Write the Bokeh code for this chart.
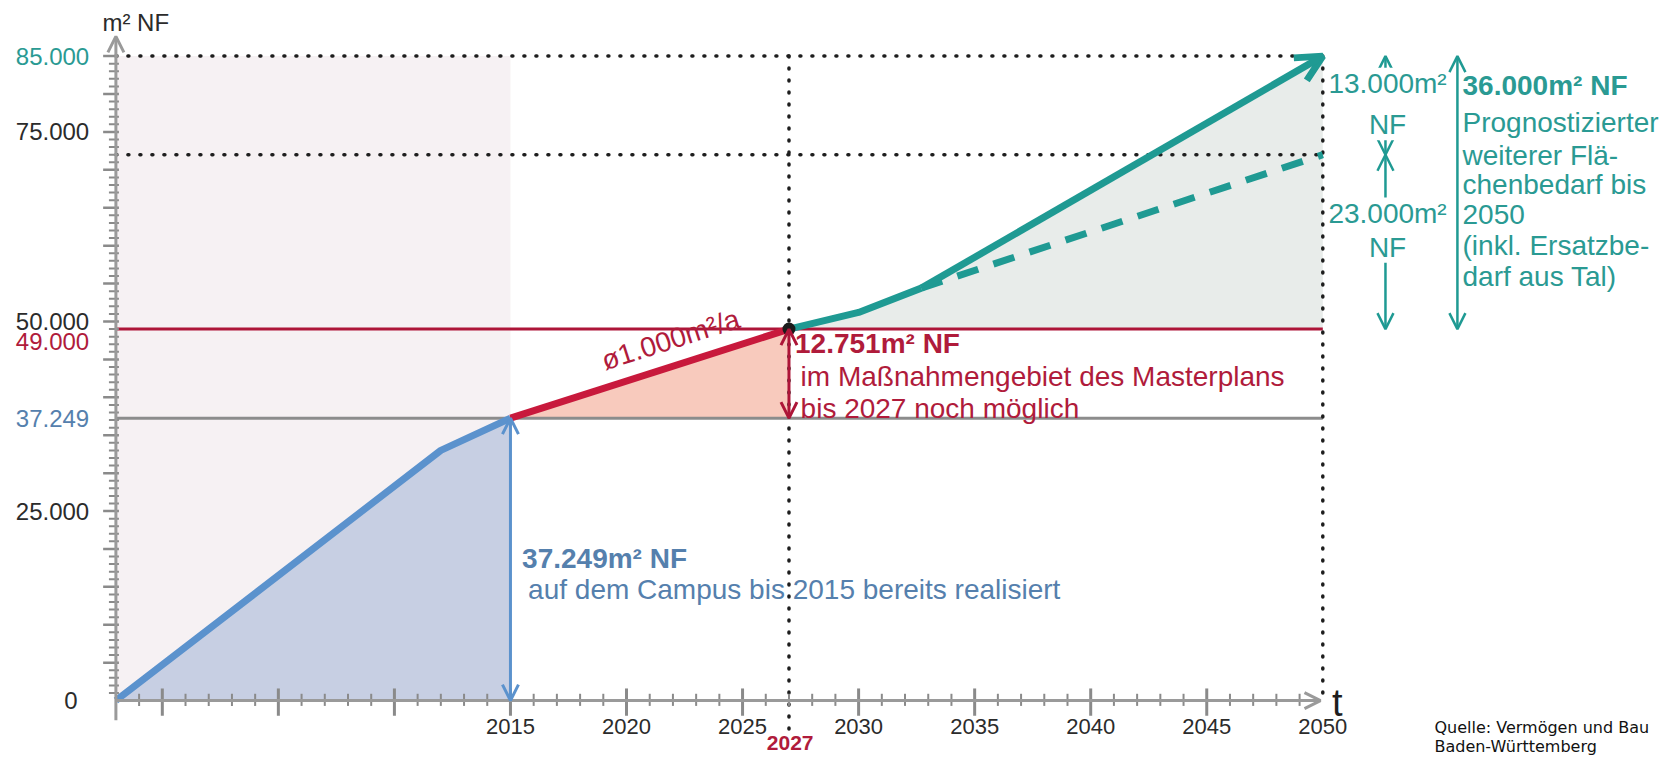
import math
from bokeh.plotting import figure
from bokeh.models import Range1d, Arrow, OpenHead
from bokeh.core.properties import value
from bokeh.embed import file_html
from bokeh.resources import INLINE

# ---------------- data ----------------
origin_year = 1998
blue_years = [1998, 2012, 2015]
blue_vals = [0, 33000, 37249]
red_years = [2015, 2027]
red_vals = [37249, 49000]
teal_years = [2027, 2030, 2032.7, 2050]
teal_vals = [49000, 51200, 54400, 85000]
dash_years = [2032.7, 2050]
dash_vals = [54400, 72000]
realised_2015 = 37249
limit_2027 = 49000
forecast_high = 85000
forecast_low = 72000
end_year = 2050
mark_year = 2027
x_tick_years = [2015, 2020, 2025, 2030, 2035, 2040, 2045, 2050]
x_major_years = list(range(2000, 2050, 5))
x_minor_years = [y for y in range(1999, 2050) if y % 5 != 0]
y_tick_vals = [25000, 50000, 75000]
y_tick_labels = ["25.000", "50.000", "75.000"]
y_minor_vals = [v for v in range(1000, 85000, 1000) if v % 5000 != 0]
y_major_vals = list(range(5000, 85001, 5000))

FONT = value("Liberation Sans")
DARK = "#2b2b2b"
TEAL = "#1f9a93"
TEAL_TXT = "#2a9a93"
RED = "#c8193c"
RED_TXT = "#b01b3b"
RED_THIN = "#ad1538"
BLUE = "#5b92cd"
BLUE_TXT = "#5580ad"
AXIS = "#9a9a9a"
TICK = "#8a8a8a"

p = figure(width=1660, height=756,
           x_range=Range1d(1993.028, 2064.55), y_range=Range1d(-7373, 92336),
           output_backend="svg", toolbar_location=None, min_border=0,
           x_axis_location=None, y_axis_location=None)
p.grid.visible = False
p.outline_line_color = None
p.background_fill_color = "white"
p.border_fill_color = "white"

# background for realised period
p.quad(left=origin_year, right=2015, bottom=0, top=forecast_high,
       fill_color="#f6f1f3", line_color=None)

# fills
p.varea(x=blue_years, y1=[0] * len(blue_years), y2=blue_vals, fill_color="#c7cfe3")
p.varea(x=red_years, y1=[realised_2015] * len(red_years), y2=red_vals, fill_color="#f8cabd")
p.varea(x=teal_years, y1=[limit_2027] * len(teal_years), y2=teal_vals, fill_color="#e8ecea")

# horizontal reference lines
p.segment(x0=[origin_year], y0=[realised_2015], x1=[end_year], y1=[realised_2015],
          line_color="#8c8c8c", line_width=3)
p.segment(x0=[origin_year], y0=[limit_2027], x1=[end_year], y1=[limit_2027],
          line_color=RED_THIN, line_width=3)

# dotted guides
p.multi_line(xs=[[origin_year, end_year], [origin_year, end_year], [mark_year, mark_year], [end_year, end_year]],
             ys=[[forecast_high, forecast_high], [forecast_low, forecast_low], [forecast_high, -4200], [forecast_high, 0]],
             line_dash="1 11", line_cap="round", line_width=3.5, line_color="#1e1e1e")

# axes (drawn through the data scales)
p.segment(x0=x_minor_years, y0=[-700] * len(x_minor_years), x1=x_minor_years, y1=[900] * len(x_minor_years),
          line_color=TICK, line_width=2)
p.segment(x0=x_major_years, y0=[-2000] * len(x_major_years), x1=x_major_years, y1=[1600] * len(x_major_years),
          line_color=TICK, line_width=3)
p.segment(x0=[origin_year - 0.3] * len(y_minor_vals), y0=y_minor_vals,
          x1=[origin_year + 0.13] * len(y_minor_vals), y1=y_minor_vals,
          line_color=TICK, line_width=2)
p.segment(x0=[origin_year - 0.55] * len(y_major_vals), y0=y_major_vals,
          x1=[origin_year + 0.13] * len(y_major_vals), y1=y_major_vals,
          line_color=TICK, line_width=2.5)
p.add_layout(Arrow(end=OpenHead(size=16, line_color=AXIS, line_width=3),
                   x_start=origin_year, y_start=-2600, x_end=origin_year, y_end=87600,
                   line_color=AXIS, line_width=3))
p.add_layout(Arrow(end=OpenHead(size=16, line_color=AXIS, line_width=3),
                   x_start=origin_year, y_start=0, x_end=end_year - 0.1, y_end=0,
                   line_color=AXIS, line_width=3))

# main series
p.line(blue_years, blue_vals, line_color=BLUE, line_width=7, line_join="round")
p.line(red_years, red_vals, line_color=RED, line_width=7, line_join="round")
p.line(teal_years[:-1], teal_vals[:-1], line_color=TEAL, line_width=7, line_join="round")
p.add_layout(Arrow(end=OpenHead(size=26, line_color=TEAL, line_width=7),
                   x_start=teal_years[-2], y_start=teal_vals[-2],
                   x_end=teal_years[-1], y_end=teal_vals[-1],
                   line_color=TEAL, line_width=7))
p.line(dash_years, dash_vals, line_color=TEAL, line_width=7, line_dash="22 16")
p.scatter([mark_year], [limit_2027], size=13, fill_color="#1b1b1b", line_color=None)

# measurement arrows
p.add_layout(Arrow(start=OpenHead(size=16, line_color=BLUE, line_width=3),
                   end=OpenHead(size=16, line_color=BLUE, line_width=3),
                   x_start=2015, y_start=realised_2015, x_end=2015, y_end=0,
                   line_color=BLUE, line_width=3))
p.add_layout(Arrow(start=OpenHead(size=16, line_color=RED_THIN, line_width=3),
                   end=OpenHead(size=16, line_color=RED_THIN, line_width=3),
                   x_start=mark_year, y_start=limit_2027, x_end=mark_year, y_end=realised_2015,
                   line_color=RED_THIN, line_width=3))
for xs, y0, y1 in [(2052.70, forecast_high, forecast_low), (2052.70, forecast_low, limit_2027),
                   (2055.80, forecast_high, limit_2027)]:
    p.add_layout(Arrow(start=OpenHead(size=16, line_color=TEAL, line_width=2.5),
                       end=OpenHead(size=16, line_color=TEAL, line_width=2.5),
                       x_start=xs, y_start=y0, x_end=xs, y_end=y1,
                       line_color=TEAL, line_width=2.5, level="underlay"))

# axis labels
p.text(x=x_tick_years, y=[-3440] * len(x_tick_years), text=[str(y) for y in x_tick_years],
       text_font=FONT, text_font_size=value("22px"), text_color=DARK,
       text_align="center", text_baseline="middle")
p.text(x=[mark_year + 0.05], y=[-5530], text=[str(mark_year)], text_font=FONT, text_font_size=value("21px"),
       text_font_style="bold", text_color=RED_TXT, text_align="center", text_baseline="middle")
p.text(x=[1996.85] * len(y_tick_vals), y=y_tick_vals, text=y_tick_labels,
       text_font=FONT, text_font_size=value("24px"), text_color=DARK,
       text_align="right", text_baseline="middle")
p.text(x=[1996.35], y=[0], text=["0"], text_font=FONT, text_font_size=value("24px"),
       text_color=DARK, text_align="right", text_baseline="middle")
p.text(x=[1996.85], y=[forecast_high], text=["85.000"], text_font=FONT, text_font_size=value("24px"),
       text_color=TEAL_TXT, text_align="right", text_baseline="middle")
p.text(x=[1996.85], y=[limit_2027 - 1700], text=["49.000"], text_font=FONT, text_font_size=value("24px"),
       text_color=RED_TXT, text_align="right", text_baseline="middle")
p.text(x=[1996.85], y=[realised_2015], text=["37.249"], text_font=FONT, text_font_size=value("24px"),
       text_color=BLUE_TXT, text_align="right", text_baseline="middle")
p.text(x=[1997.42], y=[89500], text=["m² NF"], text_font=FONT, text_font_size=value("24px"),
       text_color=DARK, text_align="left", text_baseline="middle")
p.text(x=[2050.4], y=[-350], text=["t"], text_font=FONT, text_font_size=value("38px"),
       text_color="#1e1e1e", text_align="left", text_baseline="middle")

# annotations
ANN = value("28px")
p.text(x=[2021.9], y=[47600], text=["ø1.000m²/a"], angle=math.radians(17.65),
       text_font=FONT, text_font_size=value("28px"), text_color=RED_TXT,
       text_align="center", text_baseline="middle")
p.text(x=[2027.26], y=[47097], text=["12.751m² NF"], text_font=FONT, text_font_size=ANN,
       text_font_style="bold", text_color=RED_TXT, text_align="left", text_baseline="middle")
p.text(x=[2027.5, 2027.5], y=[42700, 38550],
       text=["im Maßnahmengebiet des Masterplans", "bis 2027 noch möglich"],
       text_font=FONT, text_font_size=ANN, text_color=RED_TXT, text_align="left", text_baseline="middle")
p.text(x=[2015.5], y=[18740], text=["37.249m² NF"], text_font=FONT, text_font_size=ANN,
       text_font_style="bold", text_color=BLUE_TXT, text_align="left", text_baseline="middle")
p.text(x=[2015.76], y=[14650], text=["auf dem Campus bis 2015 bereits realisiert"],
       text_font=FONT, text_font_size=ANN, text_color=BLUE_TXT, text_align="left", text_baseline="middle")

p.text(x=[2052.79], y=[78698], text=["13.000m²\nNF"],
       text_font=FONT, text_font_size=ANN, text_color=TEAL_TXT, text_align="center",
       text_baseline="middle", text_line_height=1.34, background_fill_color="white")
p.text(x=[2052.79], y=[62047], text=["23.000m²\nNF"],
       text_font=FONT, text_font_size=ANN, text_color=TEAL_TXT, text_align="center",
       text_baseline="middle", text_line_height=1.1, background_fill_color="white")
p.text(x=[2056.02], y=[81178], text=["36.000m² NF"], text_font=FONT, text_font_size=ANN,
       text_font_style="bold", text_color=TEAL_TXT, text_align="left", text_baseline="middle")
right_lines = ["Prognostizierter", "weiterer Flä-", "chenbedarf bis", "2050",
               "(inkl. Ersatzbe-", "darf aus Tal)"]
right_y = [76219, 71946, 68121, 64072, 60023, 55961]
p.text(x=[2056.02] * len(right_lines), y=right_y, text=right_lines, text_font=FONT,
       text_font_size=ANN, text_color=TEAL_TXT, text_align="left", text_baseline="middle")

p.text(x=[2054.81, 2054.81], y=[-3560, -6000], text=["Quelle: Vermögen und Bau", "Baden-Württemberg"],
       text_font=value("DejaVu Sans"), text_font_size=value("16px"), text_color="#111111",
       text_align="left", text_baseline="middle")

open("out.html", "w").write(file_html(p, INLINE))
